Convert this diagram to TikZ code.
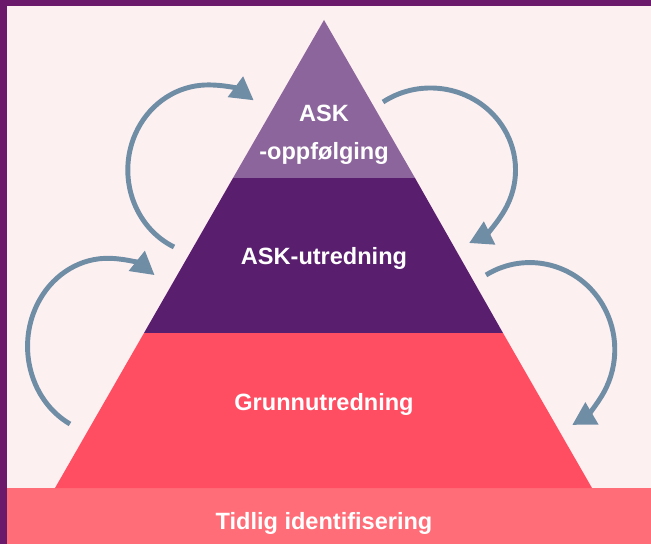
\documentclass[tikz,border=0pt]{standalone}
\usepackage{fontspec}
\setmainfont{Liberation Sans}
\usetikzlibrary{positioning}
\usetikzlibrary{arrows.meta}

\definecolor{framepurple}{RGB}{107,26,107}
\definecolor{bgpink}{RGB}{253,240,241}
\definecolor{toppurple}{RGB}{139,101,155}
\definecolor{midpurple}{RGB}{89,30,110}
\definecolor{lowred}{RGB}{255,77,98}
\definecolor{barred}{RGB}{255,110,120}
\definecolor{arrowblue}{RGB}{112,141,166}

\tikzset{x=0.02cm, y=0.02cm,
layer text/.style={ % White bold labels on the layers
text=white,
font=\bfseries\fontsize{13.4}{21.5}\selectfont,
align=center},
cycle arrow/.style={ % Curved arrows beside the pyramid
draw=arrowblue,
line width=2.8pt,
-{Triangle[length=13pt,width=14pt]}}}

\begin{document}
\begin{tikzpicture}
\fill[bgpink] (0,0) rectangle (651,-544);
\useasboundingbox (0,0) rectangle (651,-544);
\fill[framepurple] (0,0) rectangle (651,-6);
\fill[framepurple] (0,0) rectangle (7,-544);
\fill[barred] (7,-488) rectangle (651,-544);
\coordinate (apex) at (324,-20);
\coordinate (tl) at (233,-178);
\coordinate (tr) at (415,-178);
\coordinate (ml) at (144,-333);
\coordinate (mr) at (503,-333);
\coordinate (bl) at (55,-488);
\coordinate (br) at (592,-488);
\fill[toppurple] (apex) -- (tr) -- (tl) -- cycle;
\fill[midpurple] (tl) -- (tr) -- (mr) -- (ml) -- cycle;
\fill[lowred] (ml) -- (mr) -- (br) -- (bl) -- cycle;
\node[layer text] (oppf) at (324,-135) {ASK\\-oppfølging};
\node[layer text] (utred) at (324,-258) {ASK-utredning};
\node[layer text] (grunn) at (324,-404) {Grunnutredning};
\node[layer text] (tidlig) at (324,-523) {Tidlig identifisering};
\coordinate (a1) at (174,-247);
\coordinate (a2) at (383,-102);
\coordinate (a3) at (70,-424);
\coordinate (a4) at (486,-275);
\draw[cycle arrow] (a1) arc[start angle=245, end angle=55, x radius=80, y radius=85];
\draw[cycle arrow] (a2) arc[start angle=124, end angle=-63, x radius=85, y radius=82];
\draw[cycle arrow] (a3) arc[start angle=242, end angle=54, x radius=80, y radius=88];
\draw[cycle arrow] (a4) arc[start angle=121, end angle=-60, x radius=85, y radius=87];
\end{tikzpicture}
\end{document}
